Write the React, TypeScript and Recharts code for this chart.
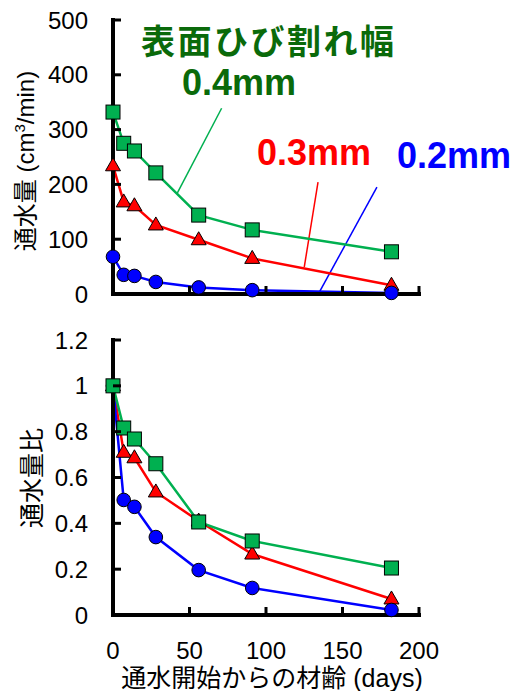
import React from "react";
import { LineChart, Line, XAxis, YAxis, ReferenceLine } from "recharts";

const days = [0, 7, 14, 28, 56, 91, 182];

const flow04 = [332, 275, 261, 221, 144, 117, 77];
const flow03 = [234, 168, 161, 126, 99, 65, 16];
const flow02 = [68, 35, 33, 22, 12, 7, 2];

const ratio04 = [1, 0.816, 0.768, 0.66, 0.406, 0.323, 0.205];
const ratio03 = [1, 0.71, 0.686, 0.537, 0.41, 0.266, 0.07];
const ratio02 = [1, 0.502, 0.472, 0.34, 0.196, 0.118, 0.022];

const xTicks = [0, 50, 100, 150, 200];
const flowTicks = [0, 100, 200, 300, 400, 500];
const ratioTicks = [0, 0.2, 0.4, 0.6, 0.8, 1, 1.2];

const GREEN = "#00b050";
const RED = "#ff0000";
const BLUE = "#0000ff";
const LATIN = "'Liberation Sans', Arial, sans-serif";
const JP = "'Liberation Sans', 'Noto Sans CJK JP', sans-serif";

const flowData = days.map((d, i) => ({ d, g: flow04[i], r: flow03[i], b: flow02[i] }));
const ratioData = days.map((d, i) => ({ d, g: ratio04[i], r: ratio03[i], b: ratio02[i] }));

// leader lines from the labels to the curves (data coords of the top panel)
const leaders = [
  { color: GREEN, seg: [{ x: 71, y: 339 }, { x: 42, y: 184 }] },
  { color: RED, seg: [{ x: 134, y: 204 }, { x: 125, y: 49 }] },
  { color: BLUE, seg: [{ x: 172.5, y: 195 }, { x: 134.6, y: 2 }] },
];

const square = (p: any) => (
  <rect key={`sq-${p.index}`} x={p.cx - 7} y={p.cy - 7} width={14} height={14} fill={GREEN} stroke="#000" strokeWidth={1} />
);
const triangle = (p: any) => (
  <polygon
    key={`tr-${p.index}`}
    points={`${p.cx},${p.cy - 8} ${p.cx + 7.5},${p.cy + 5} ${p.cx - 7.5},${p.cy + 5}`}
    fill={RED}
    stroke="#000"
    strokeWidth={1}
  />
);
const circle = (p: any) => (
  <circle key={`ci-${p.index}`} cx={p.cx} cy={p.cy} r={6.8} fill={BLUE} stroke="#000" strokeWidth={1} />
);

const axisLine = { stroke: "#000", strokeWidth: 4, strokeLinecap: "square" as const };

function XTick({ x, y, payload, showLabel }: any) {
  return (
    <g>
      <line x1={x} y1={y} x2={x} y2={y - 8} stroke="#000" strokeWidth={3} />
      {showLabel && (
        <text x={x} y={y + 44} textAnchor="middle" fontSize={24} fontFamily={LATIN} fill="#000">
          {payload.value}
        </text>
      )}
    </g>
  );
}

function YTick({ x, y, payload }: any) {
  return (
    <g>
      <line x1={x} y1={y} x2={x + 8} y2={y} stroke="#000" strokeWidth={3} />
      <text x={x - 25} y={y} dy="0.36em" textAnchor="end" fontSize={24} fontFamily={LATIN} fill="#000">
        {payload.value}
      </text>
    </g>
  );
}

export default function App() {
  return (
    <div style={{ position: "absolute", left: 0, top: 0, width: 519, height: 691, background: "#fff" }}>
      <div style={{ position: "absolute", left: 0, top: 0 }}>
        <LineChart width={519} height={320} data={flowData} margin={{ top: 20, right: 100, left: 0, bottom: 0 }}>
          <XAxis
            dataKey="d"
            type="number"
            domain={[0, 200]}
            ticks={xTicks}
            height={26}
            tickSize={0}
            tickMargin={0}
            tickLine={false}
            axisLine={axisLine}
            tick={<XTick showLabel={false} />}
          />
          <YAxis
            type="number"
            domain={[0, 500]}
            ticks={flowTicks}
            width={113}
            tickSize={0}
            tickMargin={0}
            tickLine={false}
            axisLine={axisLine}
            tick={<YTick />}
          />
          {leaders.map((l, i) => (
            <ReferenceLine key={i} segment={l.seg} stroke={l.color} strokeWidth={1.5} ifOverflow="visible" />
          ))}
          <Line dataKey="r" stroke={RED} strokeWidth={2.5} dot={triangle} isAnimationActive={false} />
          <Line dataKey="b" stroke={BLUE} strokeWidth={2.5} dot={circle} isAnimationActive={false} />
          <Line dataKey="g" stroke={GREEN} strokeWidth={2.5} dot={square} isAnimationActive={false} />
        </LineChart>
      </div>
      <div style={{ position: "absolute", left: 0, top: 320 }}>
        <LineChart width={519} height={371} data={ratioData} margin={{ top: 20, right: 100, left: 0, bottom: 0 }}>
          <XAxis
            dataKey="d"
            type="number"
            domain={[0, 200]}
            ticks={xTicks}
            height={76}
            tickSize={0}
            tickMargin={0}
            tickLine={false}
            axisLine={axisLine}
            tick={<XTick showLabel={true} />}
          />
          <YAxis
            type="number"
            domain={[0, 1.2]}
            ticks={ratioTicks}
            width={113}
            tickSize={0}
            tickMargin={0}
            tickLine={false}
            axisLine={axisLine}
            tick={<YTick />}
          />
          <Line dataKey="r" stroke={RED} strokeWidth={2.5} dot={triangle} isAnimationActive={false} />
          <Line dataKey="b" stroke={BLUE} strokeWidth={2.5} dot={circle} isAnimationActive={false} />
          <Line dataKey="g" stroke={GREEN} strokeWidth={2.5} dot={square} isAnimationActive={false} />
        </LineChart>
      </div>
      <svg width={519} height={691} style={{ position: "absolute", left: 0, top: 0, pointerEvents: "none" }}>
        <text x={141} y={54} fontSize={34} fontWeight="bold" fontFamily={JP} fill="#0a6a0a" letterSpacing={2.5}>
          表面ひび割れ幅
        </text>
        <text x={182} y={95} fontSize={36} fontWeight="bold" fontFamily={LATIN} fill="#0a6a0a">
          0.4mm
        </text>
        <text x={257} y={165} fontSize={36} fontWeight="bold" fontFamily={LATIN} fill={RED}>
          0.3mm
        </text>
        <text x={397} y={168} fontSize={36} fontWeight="bold" fontFamily={LATIN} fill={BLUE}>
          0.2mm
        </text>
        <text transform="translate(34,161) rotate(-90)" textAnchor="middle" fontSize={24} fontFamily={JP} fill="#000">
          通水量 (cm<tspan dy={-9} fontSize={15}>3</tspan>
          <tspan dy={9}>/min)</tspan>
        </text>
        <text transform="translate(41,478) rotate(-90)" textAnchor="middle" fontSize={25} fontFamily={JP} fill="#000">
          通水量比
        </text>
        <text x={272} y={687} textAnchor="middle" fontSize={25} fontFamily={JP} fill="#000">
          通水開始からの材齢 (days)
        </text>
      </svg>
    </div>
  );
}
